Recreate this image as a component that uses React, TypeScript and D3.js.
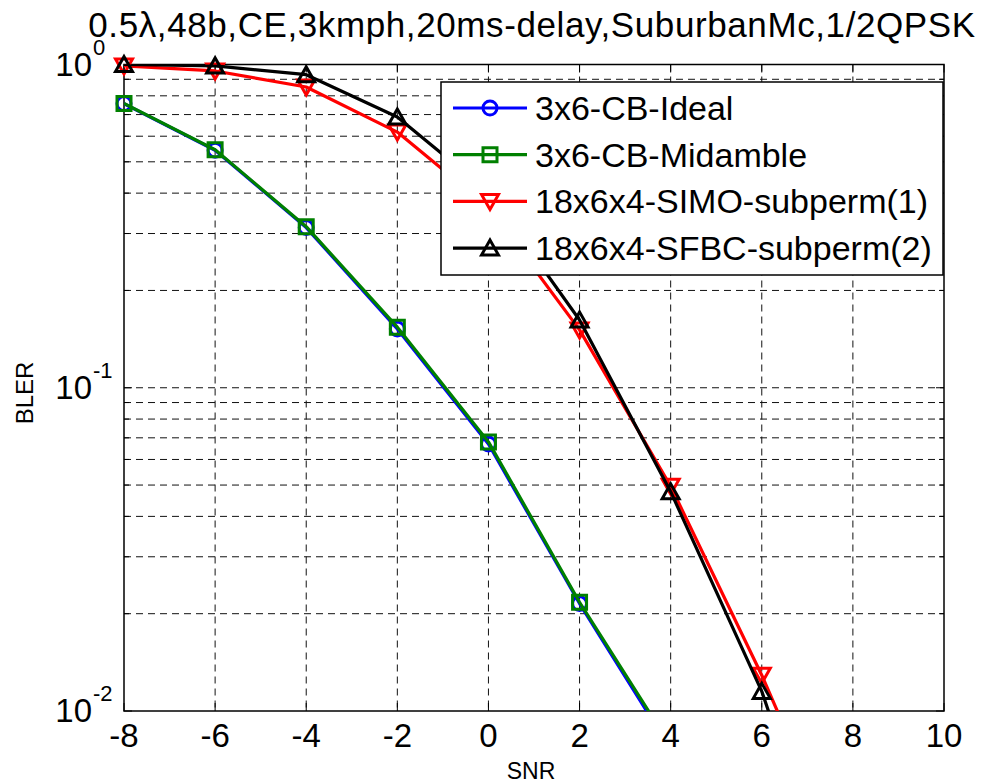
import { useRef, useEffect } from "react";
import * as d3 from "d3";

// SNR points (dB)
const snr = [-8, -6, -4, -2, 0, 2, 4, 6, 8];

// BLER per curve
const idealBler = [0.757, 0.543, 0.313, 0.152, 0.067, 0.0215, 0.0076];
const midambleBler = [0.758, 0.545, 0.315, 0.154, 0.068, 0.0217, 0.0078];
const simoBler = [0.99, 0.955, 0.852, 0.618, 0.362, 0.151, 0.0496, 0.0129, 0.0029];
const sfbcBler = [1.0, 0.99, 0.93, 0.688, 0.403, 0.162, 0.0477, 0.0115, 0.0017];

const seriesNames = [
  "3x6-CB-Ideal",
  "3x6-CB-Midamble",
  "18x6x4-SIMO-subperm(1)",
  "18x6x4-SFBC-subperm(2)",
];
const seriesColors = ["#0000ff", "#008000", "#ff0000", "#000000"];
const seriesMarkers = ["circle", "square", "triDown", "triUp"];

const xTicks = [-8, -6, -4, -2, 0, 2, 4, 6, 8, 10];
const yDecades = [-2, -1, 0];

const title = "0.5\u03bb,48b,CE,3kmph,20ms-delay,SuburbanMc,1/2QPSK";
const xLabel = "SNR";
const yLabel = "BLER";

const FONT = "'Liberation Sans', Arial, Helvetica, sans-serif";

function markerPath(kind, cx, cy) {
  const p = d3.path();
  if (kind === "circle") {
    p.moveTo(cx + 7, cy);
    p.arc(cx, cy, 7, 0, Math.PI * 2);
  } else if (kind === "square") {
    p.rect(cx - 7, cy - 7, 14, 14);
  } else if (kind === "triDown") {
    p.moveTo(cx - 8.5, cy - 7);
    p.lineTo(cx + 8.5, cy - 7);
    p.lineTo(cx, cy + 8);
    p.closePath();
  } else {
    p.moveTo(cx - 8.5, cy + 7);
    p.lineTo(cx + 8.5, cy + 7);
    p.lineTo(cx, cy - 8);
    p.closePath();
  }
  return p.toString();
}

function drawChart(svgRef) {
  const width = 983,
    height = 784;
  const left = 124,
    right = 944,
    top = 64.5,
    bottom = 711;

  let svg = d3.select(svgRef.current);
  svg.selectAll("*").remove();
  svg.attr("width", width).attr("height", height);

  const x = d3.scaleLinear().domain([-8, 10]).range([left, right]);
  const y = d3.scaleLog().domain([0.01, 1]).range([bottom, top]);

  svg.append("rect").attr("width", width).attr("height", height).attr("fill", "#fff");

  svg.append("defs").append("clipPath").attr("id", "plotclip")
    .append("rect").attr("x", left).attr("y", top)
    .attr("width", right - left).attr("height", bottom - top);

  // grid
  const grid = svg.append("g")
    .attr("stroke", "#111")
    .attr("stroke-width", 1)
    .attr("stroke-dasharray", "7,5")
    .attr("fill", "none");

  xTicks.slice(1, -1).forEach(t => {
    grid.append("line")
      .attr("x1", x(t)).attr("x2", x(t))
      .attr("y1", top).attr("y2", bottom);
  });

  const yGrid = [];
  yDecades.slice(0, -1).forEach(e => {
    for (let m = 1; m <= 9; m++) yGrid.push({ v: m * Math.pow(10, e), major: m === 1 });
  });
  yGrid.filter(d => d.v > 0.01).forEach(d => {
    grid.append("line")
      .attr("x1", left).attr("x2", right)
      .attr("y1", y(d.v)).attr("y2", y(d.v));
  });

  // ticks
  const ticks = svg.append("g").attr("stroke", "#000").attr("stroke-width", 1);
  xTicks.forEach(t => {
    ticks.append("line").attr("x1", x(t)).attr("x2", x(t)).attr("y1", bottom).attr("y2", bottom - 8);
    ticks.append("line").attr("x1", x(t)).attr("x2", x(t)).attr("y1", top).attr("y2", top + 8);
  });
  yGrid.forEach(d => {
    const len = d.major ? 8 : 5;
    ticks.append("line").attr("x1", left).attr("x2", left + len).attr("y1", y(d.v)).attr("y2", y(d.v));
    ticks.append("line").attr("x1", right).attr("x2", right - len).attr("y1", y(d.v)).attr("y2", y(d.v));
  });

  // axes box
  svg.append("rect")
    .attr("x", left).attr("y", top)
    .attr("width", right - left).attr("height", bottom - top)
    .attr("fill", "none").attr("stroke", "#000").attr("stroke-width", 1.5);

  // series
  const allSeries = [idealBler, midambleBler, simoBler, sfbcBler];
  const line = d3.line().x(d => x(d[0])).y(d => y(d[1]));

  allSeries.forEach((vals, i) => {
    const pts = vals.map((v, j) => [snr[j], v]);
    svg.append("path")
      .datum(pts)
      .attr("d", line)
      .attr("clip-path", "url(#plotclip)")
      .attr("fill", "none")
      .attr("stroke", seriesColors[i])
      .attr("stroke-width", 3.2)
      .attr("stroke-linejoin", "round");
    svg.append("g")
      .selectAll("path")
      .data(pts.filter(p => p[1] >= 0.01))
      .join("path")
      .attr("d", p => markerPath(seriesMarkers[i], x(p[0]), y(p[1])))
      .attr("fill", "none")
      .attr("stroke", seriesColors[i])
      .attr("stroke-width", 3);
  });

  // tick labels
  svg.append("g").selectAll("text")
    .data(xTicks)
    .join("text")
    .attr("x", d => x(d))
    .attr("y", 747)
    .attr("text-anchor", "middle")
    .attr("font-family", FONT)
    .attr("font-size", 33)
    .text(d => d);

  const yl = svg.append("g").attr("font-family", FONT);
  yDecades.forEach(e => {
    const py = y(Math.pow(10, e));
    yl.append("text")
      .attr("x", 92).attr("y", py + 11)
      .attr("text-anchor", "end")
      .attr("font-size", 33)
      .text("10");
    yl.append("text")
      .attr("x", 93).attr("y", py - 10)
      .attr("font-size", 22)
      .text(e);
  });

  // labels
  svg.append("text")
    .attr("x", 532).attr("y", 37)
    .attr("text-anchor", "middle")
    .attr("font-family", FONT)
    .attr("font-size", 35)
    .attr("letter-spacing", 0.6)
    .text(title);

  svg.append("text")
    .attr("x", 531).attr("y", 779)
    .attr("text-anchor", "middle")
    .attr("font-family", FONT)
    .attr("font-size", 23)
    .text(xLabel);

  svg.append("text")
    .attr("transform", "translate(33,393) rotate(-90)")
    .attr("text-anchor", "middle")
    .attr("font-family", FONT)
    .attr("font-size", 24)
    .text(yLabel);

  // legend
  const lg = svg.append("g");
  lg.append("rect")
    .attr("x", 441).attr("y", 82)
    .attr("width", 502).attr("height", 193)
    .attr("fill", "#fff").attr("stroke", "#000").attr("stroke-width", 1.5);

  seriesNames.forEach((name, i) => {
    const cy = 108 + i * 46.7;
    lg.append("line")
      .attr("x1", 453).attr("x2", 527)
      .attr("y1", cy).attr("y2", cy)
      .attr("stroke", seriesColors[i]).attr("stroke-width", 3.2);
    lg.append("path")
      .attr("d", markerPath(seriesMarkers[i], 490, cy))
      .attr("fill", "none")
      .attr("stroke", seriesColors[i])
      .attr("stroke-width", 3);
    lg.append("text")
      .attr("x", 535).attr("y", cy + 12)
      .attr("font-family", FONT)
      .attr("font-size", 34)
      .text(name);
  });
}

export default function App() {
  const svg = useRef(null);
  useEffect(() => {
    drawChart(svg);
  }, [svg]);

  return <svg ref={svg} style={{ position: "absolute", left: 0, top: 0 }} />;
}
